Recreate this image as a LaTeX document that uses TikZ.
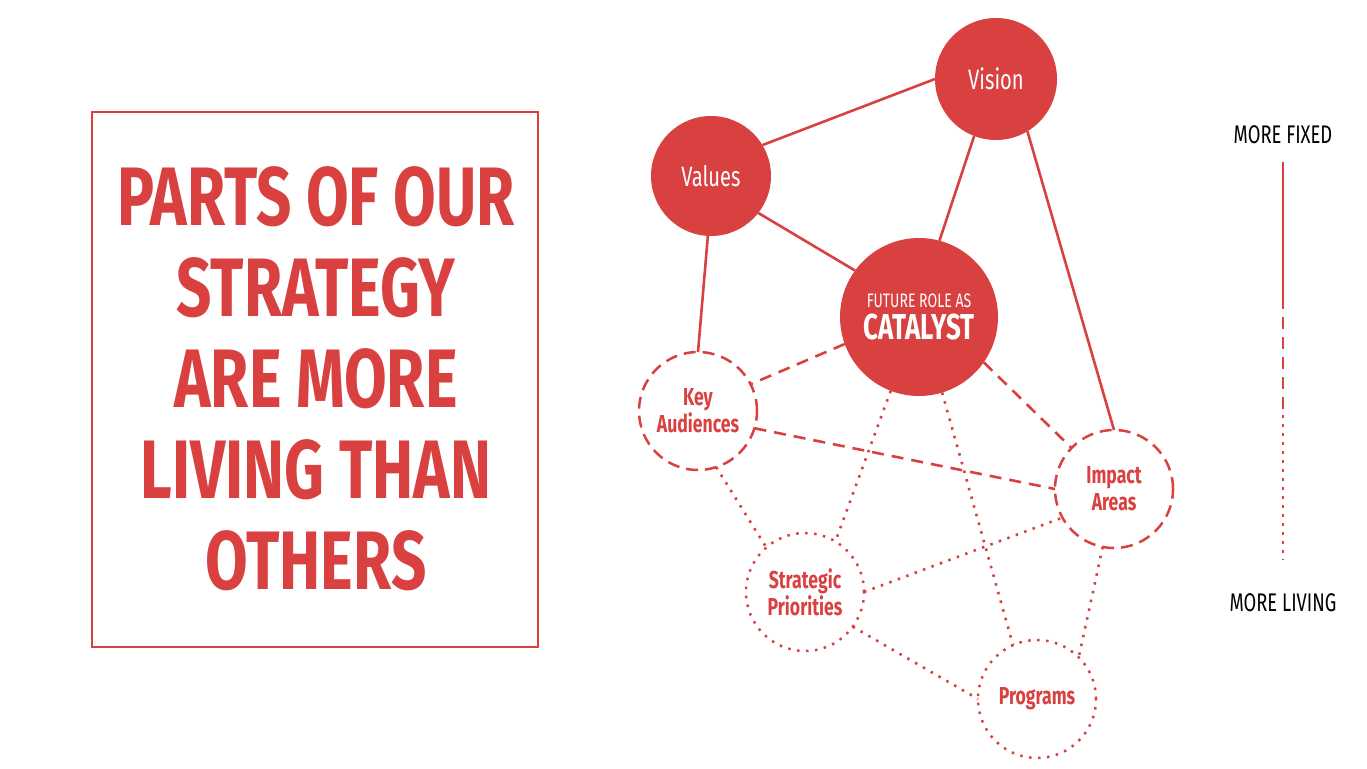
\documentclass[tikz,border=0pt]{standalone}
\usepackage{fontspec}
\setmainfont{Fira Sans}[FakeStretch=0.72]
\newfontfamily\titlefont{Fira Sans}[FakeStretch=0.745]
\definecolor{cred}{RGB}{217,64,64}
\begin{document}
\begin{tikzpicture}[x=1pt,y=-1pt,
  solidc/.style={circle, fill=cred, inner sep=0pt, outer sep=0pt, text=white},
  dashc/.style={circle, draw=cred, line width=2.5pt, dash pattern=on 12pt off 7pt, inner sep=0pt, outer sep=0pt, minimum size=118pt, text=cred, align=center, font=\bfseries\fontsize{24.5}{27}\selectfont},
  dotc/.style={circle, draw=cred, line width=2.5pt, dash pattern=on 2.5pt off 6.5pt, inner sep=0pt, outer sep=0pt, minimum size=118pt, text=cred, align=center, font=\bfseries\fontsize{24.5}{27}\selectfont},
  fixedl/.style={draw=cred, line width=2.6pt},
  dashl/.style={draw=cred, line width=2.6pt, dash pattern=on 12pt off 8pt},
  dotl/.style={draw=cred, line width=2.6pt, dash pattern=on 2.5pt off 6.5pt},
  legend/.style={text=black, font=\fontsize{25.5}{28}\selectfont}
]
\useasboundingbox (0,0) rectangle (1367,768);
% left box
\node[draw=cred, line width=2.5pt, minimum width=446pt, minimum height=535pt, inner sep=0pt] (box) at (315,379.5) {};
\node[text=cred, font=\titlefont\bfseries\fontsize{83}{91}\selectfont, align=center] (title) at (316,379) {PARTS OF OUR\\STRATEGY\\ARE MORE\\LIVING THAN\\OTHERS};
% solid circles
\node[solidc, minimum size=122pt, font=\fontsize{28}{32}\selectfont] (vision) at (996,79) {Vision};
\node[solidc, minimum size=120pt, font=\fontsize{28}{32}\selectfont] (values) at (711,176) {Values};
\node[solidc, minimum size=158pt, align=center] (catalyst) at (919,317) {{\fontsize{19.5}{20}\selectfont FUTURE ROLE AS}\\[6pt]{\bfseries\fontsize{36}{36}\selectfont CATALYST}};
% dashed circles
\node[dashc] (key) at (698,411) {Key\\Audiences};
\node[dashc] (impact) at (1114,489) {Impact\\Areas};
% dotted circles
\node[dotc] (strat) at (805,592) {Strategic\\Priorities};
\node[dotc] (prog) at (1037,699) {Programs};
% solid edges
\draw[fixedl] (values.31) -- (vision.180);
\draw[fixedl] (values.-38) -- (catalyst.144);
\draw[fixedl] (vision.-111) -- (catalyst.75);
\draw[fixedl] (vision.-59) -- (impact.90);
\draw[fixedl] (values.-93) -- (key.90);
% dashed edges
\draw[dashl] (catalyst.200) -- (key.27);
\draw[dashl] (catalyst.-35) -- (impact.136);
\draw[dashl] (key.-17) -- (impact.180);
% dotted edges
\draw[dotl] (key.-72) -- (strat.131);
\draw[dotl] (catalyst.-111) -- (strat.59);
\draw[dotl] (catalyst.-73) -- (prog.114);
\draw[dotl] (strat.0) -- (impact.209);
\draw[dotl] (strat.-36) -- (prog.180);
\draw[dotl] (impact.-101) -- (prog.45);
% legend
\node[legend] (fixed) at (1283,135) {MORE FIXED};
\node[legend] (living) at (1283,603) {MORE LIVING};
\coordinate (s1) at (1283,162);
\coordinate (s2) at (1283,297);
\coordinate (s3) at (1283,415);
\coordinate (s4) at (1283,560);
\draw[fixedl] (s1) -- (s2);
\draw[dashl] (s2) -- (s3);
\draw[dotl] (s3) -- (s4);
\end{tikzpicture}
\end{document}
